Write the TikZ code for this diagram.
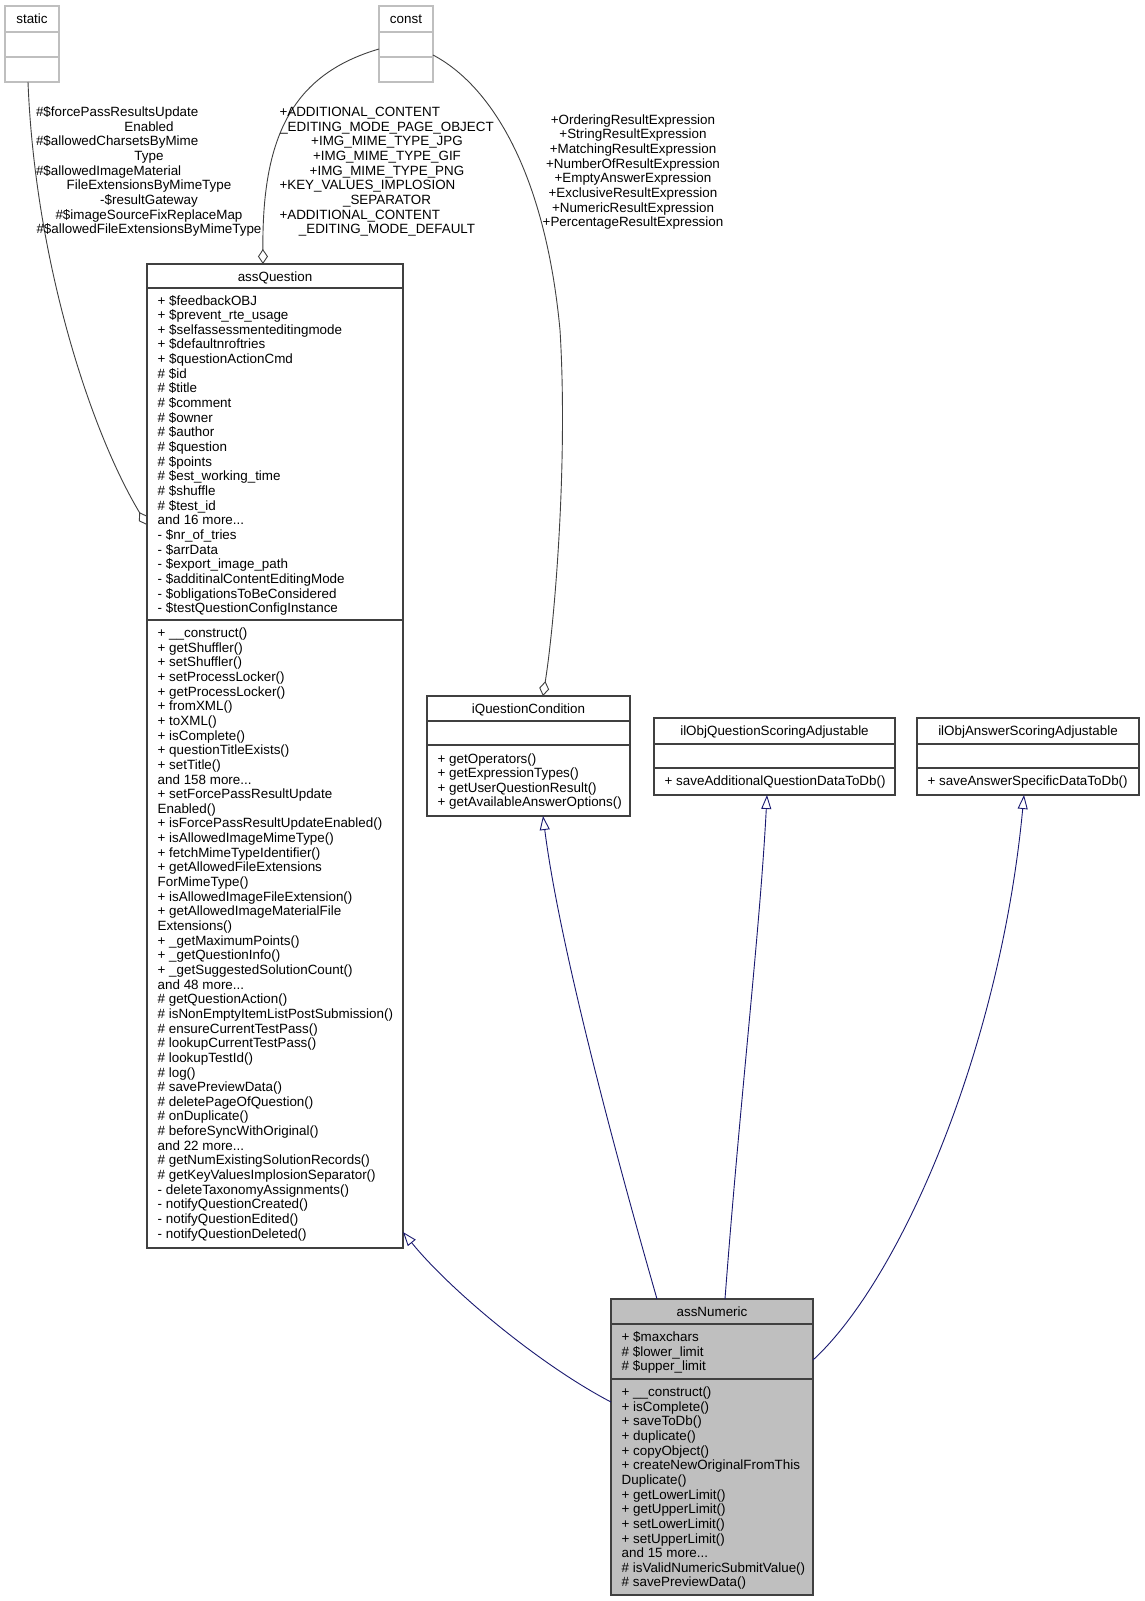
\documentclass[tikz,border=0pt]{standalone}
\usepackage{fontspec}
\setmainfont{Liberation Sans}
\usetikzlibrary{arrows.meta}

\definecolor{framegray}{HTML}{404040}
\definecolor{ghostgray}{HTML}{BFBFBF}
\definecolor{inhblue}{HTML}{191970}

\newcommand\andmore[1]{and #1 more...}

\begin{document}
\begin{tikzpicture}[x=1pt, y=-1pt, font=\fontsize{13.4}{14.65}\selectfont]

  \tikzset{
    classbox/.style={
      rectangle, draw=framegray, line width=1.1pt,
      anchor=north west, inner sep=0pt, outer sep=0pt,
    },
    ghostbox/.style={classbox, draw=ghostgray},
    classname/.style={anchor=base, inner sep=0pt},
    member/.style={anchor=base west, inner sep=0pt},
    edgelabel/.style={anchor=north, inner sep=0pt, align=center},
    aggregation/.style={
      draw=framegray, line width=0.9pt,
      -{Diamond[open, length=15pt, width=10pt]},
    },
    inheritance/.style={
      draw=inhblue, line width=0.9pt,
      -{Triangle[open, length=14pt, width=10pt]},
    },
  }

  \fill[white] (0,0) rectangle (1145,1601);
  \useasboundingbox (0,0) rectangle (1145,1601);

  % boxes
  \node[ghostbox, minimum width=54pt, minimum height=76pt] (static) at (5,6) {};
  \node[ghostbox, minimum width=54pt, minimum height=76pt] (const) at (379,6) {};
  \node[classbox, minimum width=256pt, minimum height=984pt] (assQuestion) at (147,264) {};
  \node[classbox, minimum width=203pt, minimum height=120pt] (iQuestionCondition) at (427,696) {};
  \node[classbox, minimum width=241pt, minimum height=77pt] (ilObjQuestionScoringAdjustable) at (654,718) {};
  \node[classbox, minimum width=222pt, minimum height=77pt] (ilObjAnswerScoringAdjustable) at (917,718) {};
  \node[classbox, fill=ghostgray, minimum width=202pt, minimum height=296pt] (assNumeric) at (611,1299) {};

  \foreach \n/\d in {static/26, static/51, const/26, const/51} {
    \draw[ghostgray, line width=1.1pt] ([yshift=-\d pt]\n.north west) -- ([yshift=-\d pt]\n.north east);
  }
  \foreach \n/\d in {assQuestion/24, assQuestion/356, iQuestionCondition/25, iQuestionCondition/49,
      ilObjQuestionScoringAdjustable/26, ilObjQuestionScoringAdjustable/50,
      ilObjAnswerScoringAdjustable/26, ilObjAnswerScoringAdjustable/50,
      assNumeric/25, assNumeric/80} {
    \draw[framegray, line width=1.1pt] ([yshift=-\d pt]\n.north west) -- ([yshift=-\d pt]\n.north east);
  }

  % class names
  \foreach \n in {static, const, assQuestion, iQuestionCondition,
      ilObjQuestionScoringAdjustable, ilObjAnswerScoringAdjustable, assNumeric} {
    \node[classname] (\n-name) at ([yshift=-17pt]\n.north) {\n};
  }

  % members
  \foreach \t [count=\i from 0] in {+ \$feedbackOBJ, + \$prevent\_rte\_usage,
      + \$selfassessmenteditingmode, + \$defaultnroftries, + \$questionActionCmd,
      \# \$id, \# \$title, \# \$comment, \# \$owner, \# \$author, \# \$question,
      \# \$points, \# \$est\_working\_time, \# \$shuffle, \# \$test\_id, \andmore{16},
      - \$nr\_of\_tries, - \$arrData, - \$export\_image\_path,
      - \$additinalContentEditingMode, - \$obligationsToBeConsidered,
      - \$testQuestionConfigInstance} {
    \node[member] (aqA\i) at (157.5, {305+14.65*\i}) {\t};
  }
  \foreach \t [count=\i from 0] in {+ \_\_construct(), + getShuffler(), + setShuffler(),
      + setProcessLocker(), + getProcessLocker(), + fromXML(), + toXML(), + isComplete(),
      + questionTitleExists(), + setTitle(), \andmore{158}, + setForcePassResultUpdate,
      Enabled(), + isForcePassResultUpdateEnabled(), + isAllowedImageMimeType(),
      + fetchMimeTypeIdentifier(), + getAllowedFileExtensions, ForMimeType(),
      + isAllowedImageFileExtension(), + getAllowedImageMaterialFile, Extensions(),
      + \_getMaximumPoints(), + \_getQuestionInfo(), + \_getSuggestedSolutionCount(),
      \andmore{48}, \# getQuestionAction(), \# isNonEmptyItemListPostSubmission(),
      \# ensureCurrentTestPass(), \# lookupCurrentTestPass(), \# lookupTestId(), \# log(),
      \# savePreviewData(), \# deletePageOfQuestion(), \# onDuplicate(),
      \# beforeSyncWithOriginal(), \andmore{22}, \# getNumExistingSolutionRecords(),
      \# getKeyValuesImplosionSeparator(), - deleteTaxonomyAssignments(),
      - notifyQuestionCreated(), - notifyQuestionEdited(), - notifyQuestionDeleted()} {
    \node[member] (aqM\i) at (157.5, {637.5+14.65*\i}) {\t};
  }
  \foreach \t [count=\i from 0] in {+ getOperators(), + getExpressionTypes(),
      + getUserQuestionResult(), + getAvailableAnswerOptions()} {
    \node[member] (iqcM\i) at (437.5, {763+14.65*\i}) {\t};
  }
  \node[member] (oqsM0) at (664.5,785.5) {+ saveAdditionalQuestionDataToDb()};
  \node[member] (oasM0) at (927.5,785.5) {+ saveAnswerSpecificDataToDb()};
  \foreach \t [count=\i from 0] in {+ \$maxchars, \# \$lower\_limit, \# \$upper\_limit} {
    \node[member] (anA\i) at (621.5, {1341.5+14.65*\i}) {\t};
  }
  \foreach \t [count=\i from 0] in {+ \_\_construct(), + isComplete(), + saveToDb(),
      + duplicate(), + copyObject(), + createNewOriginalFromThis, Duplicate(),
      + getLowerLimit(), + getUpperLimit(), + setLowerLimit(), + setUpperLimit(),
      \andmore{15}, \# isValidNumericSubmitValue(), \# savePreviewData()} {
    \node[member] (anM\i) at (621.5, {1396.5+14.65*\i}) {\t};
  }

  % usage edges
  \draw[aggregation] ([xshift=-4pt]static.south)
    .. controls (35,260) and (90,430) .. ([yshift=-261pt]assQuestion.north west);
  \draw[aggregation] ([yshift=-43pt]const.north west)
    .. controls (290,75) and (262,140) .. ([xshift=116pt]assQuestion.north west);
  \draw[aggregation] ([yshift=-49pt]const.north east)
    .. controls (490,85) and (545,170) .. (560,330)
    .. controls (568,460) and (555,620) .. ([xshift=116pt]iQuestionCondition.north west);

  \node[edgelabel, text width=226pt] (static-label) at (149,106) {\strut
    \#\$forcePassResultsUpdate\hfill\null\\ Enabled\\
    \#\$allowedCharsetsByMime\hfill\null\\ Type\\
    \#\$allowedImageMaterial\hfill\null\\ FileExtensionsByMimeType\\
    -\$resultGateway\\ \#\$imageSourceFixReplaceMap\\
    \#\$allowedFileExtensionsByMimeType};
  \node[edgelabel, text width=215pt] (const-label) at (387,106) {\strut
    +ADDITIONAL\_CONTENT\hfill\null\\ \_EDITING\_MODE\_PAGE\_OBJECT\\
    +IMG\_MIME\_TYPE\_JPG\\ +IMG\_MIME\_TYPE\_GIF\\ +IMG\_MIME\_TYPE\_PNG\\
    +KEY\_VALUES\_IMPLOSION\hfill\null\\ \_SEPARATOR\\
    +ADDITIONAL\_CONTENT\hfill\null\\ \_EDITING\_MODE\_DEFAULT};
  \node[edgelabel] (expr-label) at (633,113.75) {\strut+OrderingResultExpression\\
    +StringResultExpression\\ +MatchingResultExpression\\ +NumberOfResultExpression\\
    +EmptyAnswerExpression\\ +ExclusiveResultExpression\\ +NumericResultExpression\\
    +PercentageResultExpression};

  % inheritance edges
  \draw[inheritance] ([yshift=-103pt]assNumeric.north west)
    .. controls (540,1365) and (450,1290) .. ([yshift=-968pt]assQuestion.north east);
  \draw[inheritance] ([xshift=46pt]assNumeric.north west)
    .. controls (620,1170) and (560,950) .. ([xshift=116pt]iQuestionCondition.south west);
  \draw[inheritance] ([xshift=114pt]assNumeric.north west)
    .. controls (740,1100) and (760,930) .. ([xshift=113pt]ilObjQuestionScoringAdjustable.south west);
  \draw[inheritance] ([yshift=-61pt]assNumeric.north east)
    .. controls (900,1280) and (1000,1050) .. ([xshift=107pt]ilObjAnswerScoringAdjustable.south west);

\end{tikzpicture}
\end{document}
